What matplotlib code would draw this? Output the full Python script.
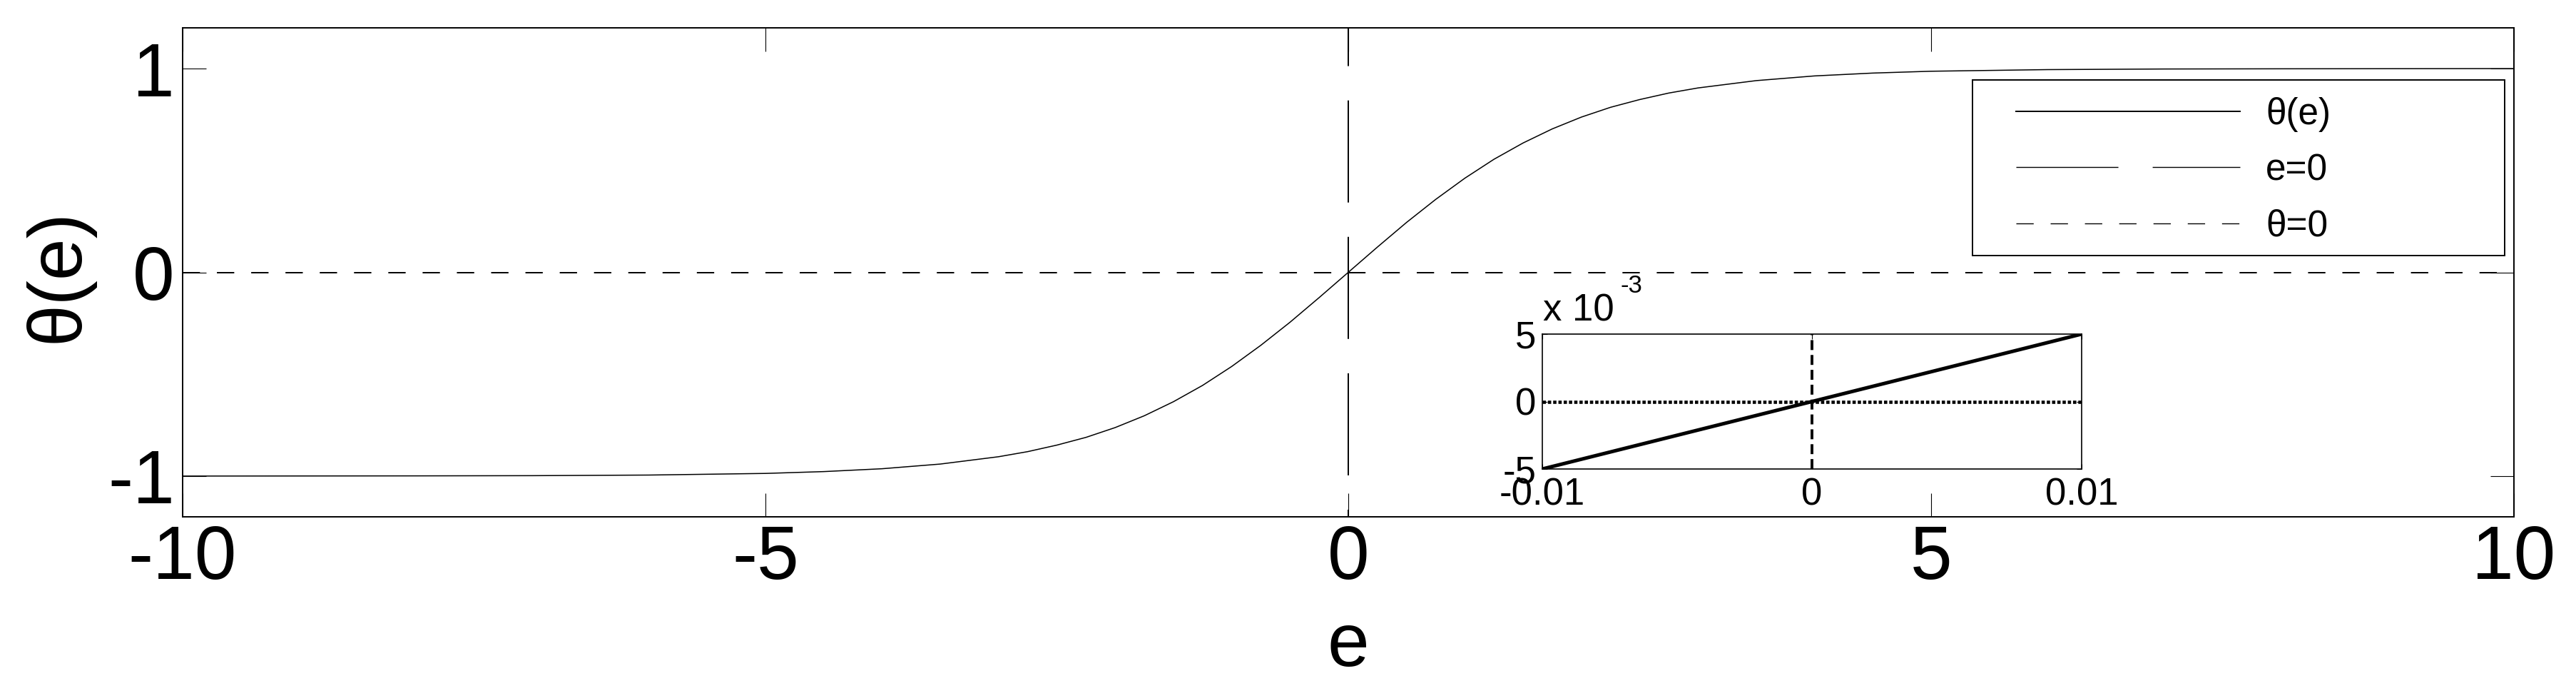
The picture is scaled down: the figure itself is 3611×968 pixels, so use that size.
import matplotlib
matplotlib.use('Agg')
import matplotlib.pyplot as plt
from matplotlib.lines import Line2D
from matplotlib.patches import Rectangle

plt.rcParams['font.family'] = ['Liberation Sans', 'DejaVu Sans']
plt.rcParams['axes.unicode_minus'] = False
plt.rcParams['lines.scale_dashes'] = False

# theta(e)
e_vals = [-10, -8, -7, -6, -5, -4.5, -4, -3.5, -3, -2.75, -2.5, -2.25, -2, -1.75,
          -1.5, -1.25, -1, -0.75, -0.5, -0.25, 0, 0.25, 0.5, 0.75, 1, 1.25, 1.5,
          1.75, 2, 2.25, 2.5, 2.75, 3, 3.5, 4, 4.5, 5, 6, 7, 8, 10]
theta_vals = [-1.000, -0.999, -0.998, -0.995, -0.987, -0.978, -0.964, -0.941, -0.905,
              -0.880, -0.848, -0.810, -0.762, -0.704, -0.635, -0.555, -0.462, -0.358,
              -0.245, -0.124, 0.000, 0.124, 0.245, 0.358, 0.462, 0.555, 0.635, 0.704,
              0.762, 0.810, 0.848, 0.880, 0.905, 0.941, 0.964, 0.978, 0.987, 0.995,
              0.998, 0.999, 1.000]

# reference lines
e0_x = [0, 0]
e0_y = [-1.2, 1.2]
th0_x = [-10, 10]
th0_y = [0, 0]

# zoomed view around the origin
zoom_e = [-0.01, 0.01]
zoom_theta = [-0.005, 0.005]
zoom_e0_y = [-0.005, 0.005]
zoom_th0_x = [-0.01, 0.01]

x_ticks = [-10, -5, 0, 5, 10]
y_ticks = [-1, 0, 1]
zoom_xticks = [-0.01, 0, 0.01]
zoom_xlabels = ['-0.01', '0', '0.01']
zoom_yticks = [-0.005, 0, 0.005]
zoom_ylabels = ['-5', '0', '5']

W, H = 3612, 968
fig = plt.figure(figsize=(W / 100, H / 100), dpi=100)
ax = fig.add_axes([256 / W, 1 - 724 / H, 3268 / W, 685 / H])

long_dash = (95.8, (103, 34.6))
short_dash = (0, (17.5, 17.1))

ax.plot(e_vals, theta_vals, color='black', lw=1.1)
ax.plot(e0_x, e0_y, color='black', lw=1.4, linestyle=long_dash)
ax.plot(th0_x, th0_y, color='black', lw=1.4, linestyle=short_dash)

ax.set_xlim(-10, 10)
ax.set_ylim(-1.2, 1.2)
ax.set_xticks(x_ticks)
ax.set_yticks(y_ticks)
ax.tick_params(direction='in', length=23.8, width=0.8, top=True, right=True,
               labelsize=76)
ax.tick_params(axis='x', pad=7)
ax.tick_params(axis='y', pad=8)
for s in ax.spines.values():
    s.set_linewidth(1.4)

fig.text(82 / W, 1 - 386 / H, 'θ(e)', rotation=90, ha='center', va='center', fontsize=76)
fig.text(1890 / W, 1 - 905 / H, 'e', ha='center', va='center', fontsize=76)

# legend box
ax.add_patch(Rectangle(((2765 - 256) / 3268, (724 - 358) / 685), 746 / 3268, 246 / 685,
                       transform=ax.transAxes, fc='white', ec='black', lw=1.4, zorder=4))
handles = [Line2D([], [], color='black', lw=1.4),
           Line2D([], [], color='black', lw=1.0, linestyle=(0, (103, 34.6))),
           Line2D([], [], color='black', lw=1.0, linestyle=short_dash)]
leg = ax.legend(handles, ['θ(e)', 'e=0', 'θ=0'], loc='upper left',
                bbox_to_anchor=(2826 / W, 1 - 136 / H), bbox_transform=fig.transFigure,
                frameon=False, borderpad=0, borderaxespad=0, fontsize=37,
                handlelength=6.11, handletextpad=0.7, labelspacing=0.57)
leg.set_zorder(5)

# inset
axi = fig.add_axes([2162 / W, 1 - 657 / H, 756 / W, 189 / H])
axi.plot(zoom_e, zoom_theta, color='black', lw=3.6)
axi.plot(e0_x, zoom_e0_y, color='black', lw=2.8, linestyle=(0, (10, 5)))
axi.plot(zoom_th0_x, th0_y, color='black', lw=3.3, linestyle=(0, (3.3, 2.0)))
axi.set_xlim(-0.01, 0.01)
axi.set_ylim(-0.005, 0.005)
axi.set_xticks(zoom_xticks)
axi.set_xticklabels(zoom_xlabels)
axi.set_yticks(zoom_yticks)
axi.set_yticklabels(zoom_ylabels)
axi.tick_params(direction='in', length=5, width=0.8, top=True, right=True,
                labelsize=38)
axi.tick_params(axis='x', pad=8)
axi.tick_params(axis='y', pad=6)
for s in axi.spines.values():
    s.set_linewidth(1.2)
fig.text(2163 / W, 1 - 450 / H, 'x 10', ha='left', va='baseline', fontsize=38)
fig.text(2272 / W, 1 - 410 / H, '-3', ha='left', va='baseline', fontsize=25)

fig.savefig('out.png', dpi=100)
